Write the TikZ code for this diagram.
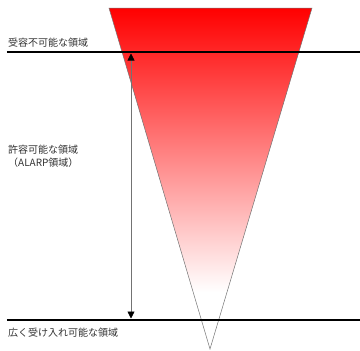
\documentclass[tikz,border=0pt]{standalone}
\usepackage{fontspec}
\newfontfamily\cjk{Noto Sans CJK JP}
\usetikzlibrary{arrows.meta}
\tikzset{
  lbl/.style={anchor=west, inner sep=0pt, font=\cjk\fontsize{10}{13}\selectfont, text=black!80, align=left},
  bound/.style={line width=1.6pt, black},
  dimarrow/.style={draw=black!55, line width=0.7pt, {Triangle[length=7pt,width=7pt,color=black]}-{Triangle[length=7pt,width=7pt,color=black]}}
}
\begin{document}
\begin{tikzpicture}[x=1pt,y=-1pt]
\useasboundingbox (0,0) rectangle (360,351);
% funnel
\coordinate (tl) at (109,8);
\coordinate (tr) at (312,8);
\coordinate (ap) at (210,349);
\coordinate (gb) at (312,292);
\begin{scope}
  \clip (tl) -- (tr) -- (ap) -- cycle;
  \fill[white] (tl) rectangle (ap -| tr);
  \shade[top color=red, bottom color=white] (tl) rectangle (gb);
\end{scope}
\draw[draw=black!55, line width=0.5pt] (tl) -- (tr) -- (ap) -- cycle;
% boundaries
\coordinate (a1) at (7,52);
\coordinate (a2) at (360,52);
\coordinate (b1) at (7,320);
\coordinate (b2) at (360,320);
\draw[bound] (a1) -- (a2);
\draw[bound] (b1) -- (b2);
% arrow
\coordinate (u) at (131,53.5);
\coordinate (d) at (131,318.5);
\draw[dimarrow] (u) -- (d);
% labels
\node[lbl] (t1) at (8,43) {受容不可能な領域};
\node[lbl] (t2) at (8,156) {許容可能な領域\\（ALARP領域）};
\node[lbl] (t3) at (8,333) {広く受け入れ可能な領域};
\end{tikzpicture}
\end{document}
